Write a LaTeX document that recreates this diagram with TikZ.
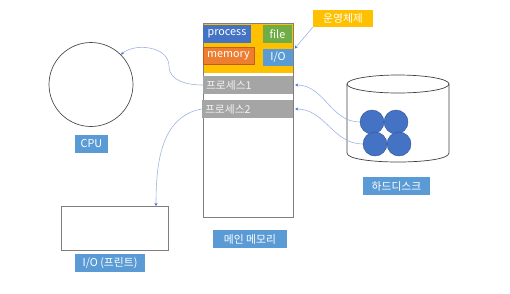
\documentclass[tikz,border=0pt]{standalone}
\usepackage{fontspec}
\setmainfont{Noto Sans CJK KR}
\usetikzlibrary{arrows.meta}
\definecolor{osyellow}{HTML}{FFC000}
\definecolor{procblue}{HTML}{4472C4}
\definecolor{filegreen}{HTML}{70AD47}
\definecolor{memorange}{HTML}{ED7D31}
\definecolor{memborder}{HTML}{C55A11}
\definecolor{lblblue}{HTML}{5B9BD5}
\definecolor{pgrey}{HTML}{A5A5A5}
\definecolor{edgegrey}{HTML}{7F7F7F}
\definecolor{lineblue}{HTML}{9DB5E0}
\definecolor{tipblue}{HTML}{4472C4}
\definecolor{diskedge}{HTML}{2F528F}
\tikzset{
  txt/.style={font=\fontsize{10.8}{12}\selectfont, text=white},
  fillbox/.style={txt, rectangle, inner sep=0pt},
  lbl/.style={fillbox, fill=lblblue},
  pbox/.style={txt, rectangle, fill=pgrey, inner ysep=0pt, inner xsep=3pt, text width=84pt, align=left, minimum height=18pt, text=white!95!black},
  frame/.style={draw=edgegrey, line width=0.8pt},
  conn/.style={draw=lineblue, line width=0.6pt, -{Stealth[length=3pt,width=3pt,color=tipblue]}},
  disk/.style={circle, fill=procblue, draw=diskedge, line width=0.4pt, minimum size=24pt, inner sep=0pt},
}
\begin{document}
\begin{tikzpicture}[x=1pt,y=-1pt]
\useasboundingbox (0,0) rectangle (510,293);
% main memory
\node[frame, rectangle, minimum width=90pt, minimum height=194pt, inner sep=0pt] (mem) at (248,120) {};
\node[rectangle, fill=osyellow, minimum width=89pt, minimum height=49pt, inner sep=0pt] (os) at (248,48.5) {};
\node[fillbox, fill=procblue, minimum width=48pt, minimum height=18pt] (proc) at (227,34) {process};
\node[fillbox, fill=filegreen, minimum width=29pt, minimum height=18pt] (file) at (277.5,34) {file};
\node[fillbox, fill=memorange, draw=memborder, line width=0.6pt, minimum width=51pt, minimum height=17pt] (memory) at (228.5,55.5) {memory};
\node[fillbox, fill=lblblue, minimum width=30pt, minimum height=17pt] (io) at (278,57.5) {I/O};
\node[pbox] (p1) at (248,85) {프로세스1};
\node[pbox, text width=85pt] (p2) at (247.5,109) {프로세스2};
\node[lbl, minimum width=74pt, minimum height=18pt] (memlabel) at (250,239) {메인 메모리};
% OS label
\node[fillbox, fill=osyellow, minimum width=60pt, minimum height=17pt] (oslabel) at (343,18.5) {운영체제};
% CPU
\node[circle, draw=black!70, line width=0.7pt, minimum size=84pt, inner sep=0pt] (cpu) at (91,84.5) {};
\node[lbl, minimum width=33pt, minimum height=18pt] (cpulabel) at (91.5,144) {CPU};
% I/O printer
\node[frame, rectangle, minimum width=107pt, minimum height=44pt, inner sep=0pt] (iobox) at (114.5,228) {};
\node[lbl, minimum width=70pt, minimum height=18pt] (iolabel) at (110,263) {I/O (프린트)};
\coordinate (ioin) at (156,206);
% hard disk
\draw[black!75, line width=0.7pt] (398,84) ellipse [x radius=51, y radius=9];
\draw[black!75, line width=0.7pt] (347,84) -- (347,153) .. controls (347,165) and (449,165) .. (449,153) -- (449,84);
\node[disk] (c1) at (372,122) {};
\node[disk] (c2) at (396,122) {};
\node[disk] (c3) at (375,144) {};
\node[disk] (c4) at (399,144) {};
\node[lbl, minimum width=67pt, minimum height=18pt] (disklabel) at (396.5,186) {하드디스크};
% connectors
\draw[conn] (oslabel.south west) -- ([xshift=2pt]os.east);
\draw[conn] (p1.west) to[out=180,in=-90] (169,66) to[out=90,in=40] (cpu.45);
\draw[conn] (p2.west) to[out=190,in=90] (ioin);
\draw[conn] (c1.west) to[out=180,in=0] ([xshift=2pt]p1.east);
\draw[conn] (c3.west) to[out=180,in=0] ([xshift=2pt]p2.east);
\end{tikzpicture}
\end{document}
